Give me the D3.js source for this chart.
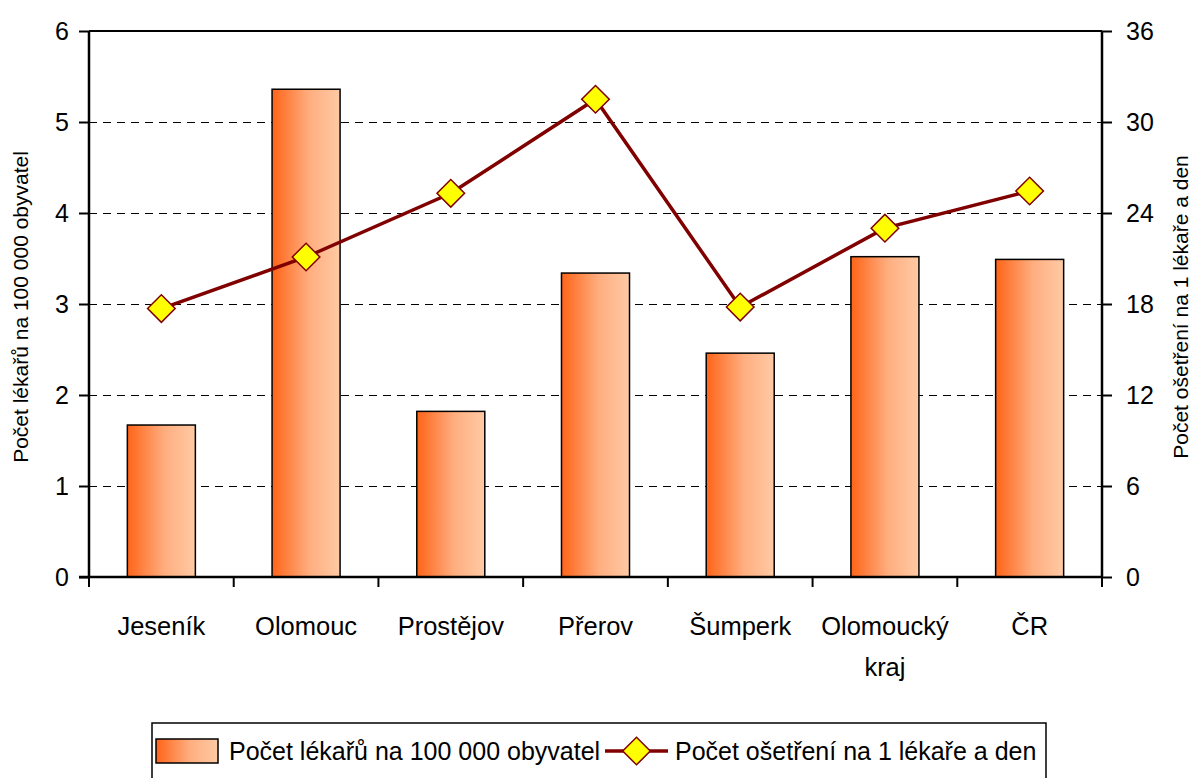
<!DOCTYPE html>
<html>
<head>
<meta charset="utf-8">
<script src="https://cdn.jsdelivr.net/npm/d3@7"></script>
<style>
  body { margin: 0; background: #fff; }
  svg text { font-family: "Liberation Sans", Arial, sans-serif; fill: #000; }
</style>
</head>
<body>
<div id="plot"></div>
<script>
// data
const categories = [["Jeseník"], ["Olomouc"], ["Prostějov"], ["Přerov"], ["Šumperk"], ["Olomoucký", "kraj"], ["ČR"]];
const doctors = [1.67, 5.36, 1.82, 3.34, 2.46, 3.52, 3.49];     // Počet lékařů na 100 000 obyvatel
const treatments = [17.7, 21.1, 25.3, 31.5, 17.8, 23.0, 25.45]; // Počet ošetření na 1 lékaře a den
const leftTicks = [0, 1, 2, 3, 4, 5, 6];
const rightTicks = [0, 6, 12, 18, 24, 30, 36];
const seriesNames = ["Počet lékařů na 100 000 obyvatel", "Počet ošetření na 1 lékaře a den"];

const width = 1192, height = 778;
const margin = { left: 89, right: 90, top: 31, bottom: 201 };
const plot_w = width - margin.left - margin.right;
const plot_h = height - margin.top - margin.bottom;
const line_color = "#800000";

const svg = d3.select("#plot").append("svg")
  .attr("width", width)
  .attr("height", height);

const defs = svg.append("defs");
const grad = defs.append("linearGradient").attr("id", "barGrad")
  .attr("x1", "0%").attr("x2", "100%").attr("y1", "0%").attr("y2", "0%");
grad.append("stop").attr("offset", "0%").attr("stop-color", "#ff6418");
grad.append("stop").attr("offset", "15%").attr("stop-color", "#ff7834");
grad.append("stop").attr("offset", "55%").attr("stop-color", "#ffae80");
grad.append("stop").attr("offset", "100%").attr("stop-color", "#ffcaa4");

const x = d3.scaleBand()
  .domain(d3.range(categories.length))
  .range([0, plot_w])
  .paddingInner(0)
  .paddingOuter(0);

const yL = d3.scaleLinear().domain([0, 6]).range([plot_h, 0]);
const yR = d3.scaleLinear().domain([0, 36]).range([plot_h, 0]);

const g = svg.append("g").attr("transform", `translate(${margin.left},${margin.top})`);

// dashed gridlines
g.selectAll(".grid")
  .data(leftTicks.filter(d => d > 0 && d < 6))
  .enter().append("line")
  .attr("x1", 0).attr("x2", plot_w)
  .attr("y1", d => Math.round(yL(d)) + 0.5).attr("y2", d => Math.round(yL(d)) + 0.5)
  .attr("stroke", "#000")
  .attr("stroke-width", 1)
  .attr("shape-rendering", "crispEdges")
  .attr("stroke-dasharray", "8,6");

// top border
g.append("line")
  .attr("x1", 0).attr("x2", plot_w)
  .attr("y1", 0).attr("y2", 0)
  .attr("stroke", "#000").attr("stroke-width", 2);

// bars
const bar_w = x.bandwidth() * 0.47;
g.selectAll(".bar")
  .data(doctors)
  .enter().append("rect")
  .attr("x", (d, i) => x(i) + (x.bandwidth() - bar_w) / 2)
  .attr("y", d => yL(d))
  .attr("width", bar_w)
  .attr("height", d => plot_h - yL(d))
  .attr("fill", "url(#barGrad)")
  .attr("stroke", "#000")
  .attr("stroke-width", 1.5);

// left axis
const axisL = g.append("g")
  .call(d3.axisLeft(yL).tickValues(leftTicks).tickSize(10).tickPadding(10).tickFormat(d3.format("d")));
axisL.select(".domain").attr("stroke-width", 2.5).attr("d", `M0,${plot_h}V0`);
axisL.selectAll(".tick line").attr("stroke-width", 2);
axisL.selectAll("text").style("font-size", "25px");

// right axis
const axisR = g.append("g")
  .attr("transform", `translate(${plot_w},0)`)
  .call(d3.axisRight(yR).tickValues(rightTicks).tickSize(10).tickPadding(14).tickFormat(d3.format("d")));
axisR.select(".domain").attr("stroke-width", 2.5).attr("d", `M0,${plot_h}V0`);
axisR.selectAll(".tick line").attr("stroke-width", 2);
axisR.selectAll("text").style("font-size", "25px");

// x axis
g.append("line")
  .attr("x1", -10).attr("x2", plot_w)
  .attr("y1", plot_h).attr("y2", plot_h)
  .attr("stroke", "#000").attr("stroke-width", 2.5);
g.selectAll(".xtick")
  .data(d3.range(categories.length + 1))
  .enter().append("line")
  .attr("x1", i => i < categories.length ? x(i) : plot_w)
  .attr("x2", i => i < categories.length ? x(i) : plot_w)
  .attr("y1", plot_h).attr("y2", plot_h + 10)
  .attr("stroke", "#000").attr("stroke-width", 2);

const xl = g.selectAll(".xlabel")
  .data(categories)
  .enter().append("text")
  .attr("text-anchor", "middle")
  .style("font-size", "25.5px")
  .attr("transform", (d, i) => `translate(${x(i) + x.bandwidth() / 2},${plot_h + 58})`);
xl.selectAll("tspan")
  .data(d => d)
  .enter().append("tspan")
  .attr("x", 0)
  .attr("dy", (d, i) => i === 0 ? 0 : 41)
  .text(d => d);

// line series
const line = d3.line()
  .x((d, i) => x(i) + x.bandwidth() / 2)
  .y(d => yR(d));
g.append("path")
  .datum(treatments)
  .attr("d", line)
  .attr("fill", "none")
  .attr("stroke", line_color)
  .attr("stroke-width", 3.5);

const diamond = d3.symbol().type(d3.symbolSquare).size(380);
g.selectAll(".marker")
  .data(treatments)
  .enter().append("path")
  .attr("d", diamond)
  .attr("transform", (d, i) => `translate(${x(i) + x.bandwidth() / 2},${yR(d)}) rotate(45)`)
  .attr("fill", "#ffff00")
  .attr("stroke", line_color)
  .attr("stroke-width", 1.5);

// axis titles
svg.append("text")
  .attr("transform", `translate(28,${margin.top + plot_h / 2 + 3}) rotate(-90)`)
  .attr("text-anchor", "middle")
  .style("font-size", "21px")
  .text(seriesNames[0]);
svg.append("text")
  .attr("transform", `translate(1188,${margin.top + plot_h / 2 + 3}) rotate(-90)`)
  .attr("text-anchor", "middle")
  .style("font-size", "21px")
  .text(seriesNames[1]);

// legend
const leg = svg.append("g").attr("transform", "translate(152,723)");
leg.append("rect")
  .attr("x", 0).attr("y", 0)
  .attr("width", 894).attr("height", 70)
  .attr("fill", "#fff")
  .attr("stroke", "#000").attr("stroke-width", 1.5);
leg.append("rect")
  .attr("x", 4).attr("y", 16)
  .attr("width", 62).attr("height", 24)
  .attr("fill", "url(#barGrad)")
  .attr("stroke", "#000").attr("stroke-width", 1.5);
leg.append("text")
  .attr("x", 77).attr("y", 37)
  .style("font-size", "25px")
  .text(seriesNames[0]);
leg.append("line")
  .attr("x1", 453).attr("x2", 516)
  .attr("y1", 28).attr("y2", 28)
  .attr("stroke", line_color).attr("stroke-width", 3.5);
leg.append("path")
  .attr("d", diamond)
  .attr("transform", "translate(484.5,28) rotate(45)")
  .attr("fill", "#ffff00")
  .attr("stroke", line_color)
  .attr("stroke-width", 1.5);
leg.append("text")
  .attr("x", 523).attr("y", 37)
  .style("font-size", "25px")
  .text(seriesNames[1]);
</script>
</body>
</html>
